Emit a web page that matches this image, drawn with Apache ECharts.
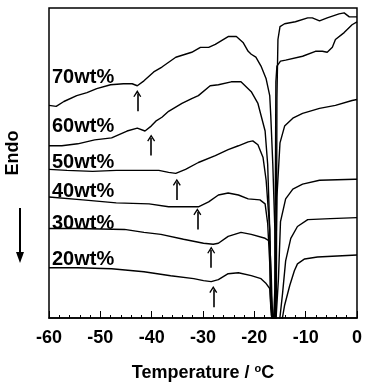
<!DOCTYPE html>
<html>
<head>
<meta charset="utf-8">
<script src="https://cdn.jsdelivr.net/npm/echarts@6/dist/echarts.min.js"></script>
<style>html,body{margin:0;padding:0;background:#fff}#c{width:365px;height:387px}</style>
</head>
<body>
<div id="c"></div>
<script>
// Temperature (°C) vs heat-flow (arbitrary, offset) pairs
const curve70 = [[-60,216],[-58.6,215],[-57.1,220],[-54.6,226],[-52.6,229],[-50.7,233],[-48.0,237],[-45.5,238],[-43.8,238],[-42.8,236],[-41.5,241],[-39.6,250],[-38.0,255],[-35.3,265],[-32.2,270],[-30.5,275],[-28.9,275],[-27.6,278],[-25.1,286],[-23.5,286],[-22.2,280],[-21.2,271],[-20.6,268],[-19.7,265],[-18.7,256],[-17.7,243],[-17.0,226],[-16.8,206],[-16.4,156],[-16.0,90],[-15.9,13],[-15.8,-10],[-15.7,30],[-15.6,223],[-15.4,283],[-15.0,296],[-14.1,299],[-12.0,301],[-9.6,305],[-8.7,305],[-7.3,302],[-5.8,305],[-3.5,309],[-2.5,310],[-1.5,306],[0,306]];
const curve60 = [[-60,175],[-57.5,175],[-54.4,177],[-51.1,181],[-47.8,183],[-44.8,190],[-42.8,193],[-41.3,190],[-40.1,195],[-39.2,200],[-38.0,204],[-36.7,210],[-34.1,218],[-32.2,223],[-30.9,226],[-28.6,236],[-27.0,237],[-24.5,240],[-22.6,240],[-21.8,236],[-20.6,230],[-19.3,218],[-17.9,190],[-17.4,156],[-17.0,90],[-16.8,13],[-16.3,-10],[-16.0,30],[-15.8,240],[-15.6,256],[-14.9,261],[-13.9,262],[-10.6,266],[-8.1,271],[-6.75,271],[-5.8,270],[-4.8,275],[-4.2,283],[-2.5,290],[-0.96,298],[0,301]];
const curve50 = [[-60,151],[-56.5,150],[-51.5,149],[-46.9,150],[-42.4,150],[-38.6,150],[-36.7,148],[-35.3,147],[-33.4,151],[-30.9,158],[-27.6,165],[-25.1,171],[-23.1,175],[-21.2,179],[-20.3,180],[-19.3,176],[-18.3,163],[-17.7,140],[-17.0,90],[-16.7,23],[-16.2,-10],[-15.9,30],[-15.6,123],[-15.0,178],[-14.1,195],[-12.5,203],[-10.6,208],[-7.3,213],[-4.2,216],[-0.96,221],[0,222]];
const curve40 = [[-60,123],[-53.4,120],[-46.9,117],[-40.5,116],[-36.7,113],[-30.9,113],[-28.9,118],[-27.0,125],[-25.1,127],[-23.1,125],[-21.2,121],[-18.9,120],[-17.9,116],[-17.4,96],[-17.0,56],[-16.8,13],[-15.9,-12],[-15.3,40],[-14.9,98],[-13.9,121],[-12.5,131],[-10.6,136],[-7.3,140],[-0.4,141],[0,141]];
const curve30 = [[-60,91],[-54.4,91],[-45.3,90],[-41.5,87],[-38.2,85],[-33.8,80],[-29.9,76],[-28.0,75],[-27.0,76],[-25.1,83],[-22.6,87],[-20.6,85],[-17.9,81],[-17.0,78],[-16.7,43],[-16.5,5],[-15.6,-15],[-15.0,1],[-14.5,25],[-13.9,58],[-12.9,81],[-11.6,93],[-9.6,100],[-5.2,101],[0,102]];
const curve20 = [[-60,51],[-54.4,51],[-47.8,50],[-41.5,47],[-36.3,43],[-31.8,40],[-29.9,38],[-28.4,37],[-27.0,39],[-25.1,45],[-23.1,46],[-20.6,43],[-18.7,40],[-17.7,35],[-17.0,30],[-16.7,3],[-15.5,-20],[-14.5,1],[-14.1,13],[-13.1,33],[-12.2,48],[-11.6,55],[-10.2,60],[-7.7,62],[0,64]];

const seriesNames = ['70wt%','60wt%','50wt%','40wt%','30wt%','20wt%'];
const arrowT    = [-42.8,-40.1,-35.1,-31.1,-28.4,-28.0];
const arrowBase = [210,165,120,90,51,11];
const arrowTip  = [228,183,138,108,69,29];
const xTicks = [-60,-50,-40,-30,-20,-10,0];

const curves = [curve70,curve60,curve50,curve40,curve30,curve20];
const labelY = [78,127,163,192,224,260];
const FONT = '"Liberation Sans", Arial, sans-serif';
const chevron = 'path://M5,0 L10,9 L8.6,10 L5,3.6 L1.4,10 L0,9 Z';

const chart = echarts.init(document.getElementById('c'), null, {renderer:'canvas'});
const series = curves.map((c,i)=>({
  name: seriesNames[i], type:'line', data:c, showSymbol:false, symbol:'none',
  lineStyle:{color:'#000', width:1.4}, animation:false, clip:true,
  markLine:{silent:true, symbol:['none', chevron], symbolSize:[8,7],
    lineStyle:{color:'#000', width:1.6, type:'solid'}, label:{show:false},
    data:[[{coord:[arrowT[i],arrowBase[i]]},{coord:[arrowT[i],arrowTip[i]]}]]}
}));

const graphic = seriesNames.map((n,i)=>({
  type:'text', left:52, top:labelY[i]-11,
  style:{text:n, font:'bold 20px '+FONT, fill:'#000'}
}));
graphic.push({type:'text', x:13, y:153, rotation:Math.PI/2,
  style:{text:'Endo', font:'bold 18px '+FONT, fill:'#000', align:'center', verticalAlign:'middle'}});
graphic.push({type:'line', shape:{x1:20,y1:208,x2:20,y2:254}, style:{stroke:'#000', lineWidth:2}});
graphic.push({type:'polygon', shape:{points:[[16,252],[24,252],[20,263]]}, style:{fill:'#000'}});

chart.setOption({
  animation:false,
  backgroundColor:'#fff',
  grid:{left:49, right:5, top:8, bottom:64, show:true, borderColor:'#000', borderWidth:1.5, backgroundColor:'transparent'},
  xAxis:{type:'value', min:-60, max:0, interval:10,
    axisLine:{show:true, lineStyle:{color:'#000', width:1.5}},
    axisTick:{show:true, inside:true, length:7, lineStyle:{color:'#000', width:1}},
    minorTick:{show:true, splitNumber:5, length:3, lineStyle:{color:'#000', width:1}},
    splitLine:{show:false}, minorSplitLine:{show:false},
    axisLabel:{color:'#000', fontSize:18, fontWeight:'bold', fontFamily:FONT, margin:11,
      formatter:(v)=> xTicks.includes(v) ? String(v) : ''},
    name:'Temperature / {s|o}C', nameLocation:'middle', nameGap:45,
    nameTextStyle:{color:'#000', fontSize:18, fontWeight:'bold', fontFamily:FONT,
      rich:{s:{fontSize:11, fontWeight:'bold', fontFamily:FONT, color:'#000', verticalAlign:'top', padding:[0,0,9,0]}}}
  },
  yAxis:{type:'value', min:0, max:315, show:false, splitLine:{show:false}},
  series: series,
  graphic: graphic
});
</script>
</body>
</html>
